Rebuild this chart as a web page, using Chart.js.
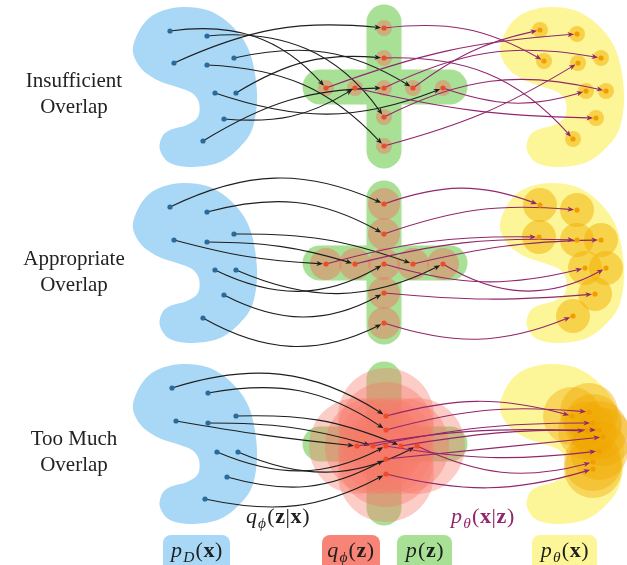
<!DOCTYPE html>
<html>
<head>
<meta charset="utf-8">
<script src="https://cdn.jsdelivr.net/npm/chart.js"></script>
<style>
  html, body { margin: 0; padding: 0; background: #ffffff; }
  canvas { display: block; }
</style>
</head>
<body>
<canvas id="vae" width="627" height="565"></canvas>
<script>
// Plane used by both axes: x grows to the right (0..627), y grows downward (0..565).

// Row captions
const rowTitles = [["Insufficient", "Overlap"], ["Appropriate", "Overlap"], ["Too Much", "Overlap"]];
// Vertical offset of each row's regions
const rowShift = [0, 176, 357];

// Outline of the data density p_D(x) (top row); p_θ(x) reuses it moved to the right
const densityOutline = [[133,47],[147,20],[173,8],[207,10],[233,27],[250,53],[257,93],[253,127],
  [240,147],[220,162],[193,167],[170,163],[160,150],[162,137],[170,130],[187,125],[198,117],
  [199,103],[192,93],[177,87],[157,80],[140,67]];
const decodedShiftX = 367;

// Prior p(z): two bars forming a cross (top row)
const priorBars = [[[384,22],[384,151]], [[320,87],[450,87]]];

// Row 1: insufficient overlap
const xInsufficient = [[170,31],[207,36],[174,63],[234,58],[207,65],[236,93],[215,93],[224,119],[203,141]];
const zInsufficient = [[384,28],[384,58],[326,88],[355,88],[384,88],[413,88],[443,88],[384,117],[384,146]];
const rInsufficient = [[540,30],[577,34],[544,61],[578,63],[601,58],[586,91],[606,91],[596,118],[573,139]];
// links: [from, to, bend in degrees]
const encInsufficient = [[0,2,28],[1,7,30],[2,0,15],[3,5,22],[4,8,22],[5,1,18],[6,6,-20],[7,3,-18],[8,4,15]];
const decInsufficient = [[0,2,18],[1,8,25],[5,0,12],[8,3,-8],[6,5,-18],[3,7,-6],[2,1,8],[4,4,18],[7,6,20]];

// Row 2: appropriate overlap
const xAppropriate = [[170,207],[207,212],[234,234],[174,240],[207,242],[215,270],[236,270],[224,295],[203,318]];
const zAppropriate = [[384,204],[384,234],[326,264],[355,264],[384,264],[413,264],[443,264],[384,293],[384,323]];
const rAppropriate = [[540,205],[577,210],[539,237],[577,240],[601,240],[585,268],[606,268],[595,294],[573,316]];
const encAppropriate = [[0,0,25],[1,1,22],[2,5,10],[4,3,8],[3,2,-6],[5,4,-28],[6,6,-25],[7,7,-28],[8,8,-28]];
const decAppropriate = [[0,0,20],[1,1,12],[2,2,8],[3,3,8],[5,4,6],[4,5,-15],[6,6,-30],[7,7,-5],[8,8,-20]];

// Row 3: too much overlap
const xTooMuch = [[172,388],[208,393],[236,416],[176,421],[208,423],[217,452],[238,452],[227,477],[205,499]];
const zTooMuch = [[386,416],[386,430],[357,446],[373,446],[386,446],[401,446],[417,446],[386,459],[386,474]];
const rTooMuch = [[572,416],[589,412],[593,423],[587,431],[599,430],[603,437],[599,451],[593,462],[593,469]];
const encTooMuch = [[0,0,25],[1,1,22],[2,5,12],[4,3,8],[3,2,-2],[5,4,-25],[6,6,-25],[7,7,-22],[8,8,-20]];
const decTooMuch = [[0,0,15],[1,1,10],[2,3,6],[3,2,6],[5,4,5],[4,6,-8],[6,7,-20],[7,5,0],[8,8,-15]];

// ---- styling ----
const SERIF = '"Liberation Serif", "DejaVu Serif", serif';
const C = {
  blue: 'rgb(168,216,245)', blueDot: '#2b6b9b',
  green: 'rgb(168,224,150)',
  yellow: 'rgb(253,246,152)', orangeDot: '#f39c00',
  redDot: '#ee4a2c', salmon: 'rgb(247,132,118)',
  ink: '#1e1e1e', purple: 'rgb(146,38,108)'
};
const codeHalo = [8, 16, 48];
const codeHaloColor = ['rgba(238,122,100,0.48)', 'rgba(238,122,100,0.5)', 'rgba(246,122,106,0.38)'];
const outHalo = [8, 17, 29];
const outHaloColor = ['rgba(242,176,0,0.52)', 'rgba(242,176,0,0.5)', 'rgba(240,168,0,0.4)'];

const rows = [
  { x: xInsufficient, z: zInsufficient, r: rInsufficient, enc: encInsufficient, dec: decInsufficient },
  { x: xAppropriate, z: zAppropriate, r: rAppropriate, enc: encAppropriate, dec: decAppropriate },
  { x: xTooMuch, z: zTooMuch, r: rTooMuch, enc: encTooMuch, dec: decTooMuch }
];

const pts = arr => arr.map(p => ({ x: p[0], y: p[1] }));

// ---- datasets ----
const datasets = [];
rows.forEach((row, i) => {
  priorBars.forEach(bar => datasets.push({
    role: 'prior', showLine: true, order: 10,
    data: bar.map(p => ({ x: p[0], y: p[1] + rowShift[i] })),
    borderColor: C.green, borderWidth: 35, borderCapStyle: 'round',
    pointRadius: 0
  }));
  datasets.push({ role: 'halo', order: 5, data: pts(row.z),
    pointRadius: codeHalo[i], pointBackgroundColor: codeHaloColor[i], pointBorderWidth: 0 });
  datasets.push({ role: 'halo', order: 5, data: pts(row.r),
    pointRadius: outHalo[i], pointBackgroundColor: outHaloColor[i], pointBorderWidth: 0 });
  datasets.push({ role: 'dot', order: 0, data: pts(row.x),
    pointRadius: 2.6, pointBackgroundColor: C.blueDot, pointBorderWidth: 0 });
  datasets.push({ role: 'dot', order: 0, data: pts(row.z),
    pointRadius: 2.6, pointBackgroundColor: C.redDot, pointBorderWidth: 0 });
  datasets.push({ role: 'dot', order: 0, data: pts(row.r),
    pointRadius: 2.6, pointBackgroundColor: C.orangeDot, pointBorderWidth: 0 });
});

// ---- drawing helpers ----
function toPx(chart, p) {
  return [chart.scales.x.getPixelForValue(p[0]), chart.scales.y.getPixelForValue(p[1])];
}

function closedSpline(ctx, p) {
  const n = p.length;
  ctx.beginPath();
  ctx.moveTo(p[0][0], p[0][1]);
  for (let i = 0; i < n; i++) {
    const a = p[(i - 1 + n) % n], b = p[i], c = p[(i + 1) % n], d = p[(i + 2) % n];
    ctx.bezierCurveTo(b[0] + (c[0] - a[0]) / 6, b[1] + (c[1] - a[1]) / 6,
                      c[0] - (d[0] - b[0]) / 6, c[1] - (d[1] - b[1]) / 6, c[0], c[1]);
  }
  ctx.closePath();
}

// Bent arrow (TikZ-style "bend" by the given angle), arrowhead at the end
function arrow(ctx, a, b, bendDeg, color) {
  const dx = b[0] - a[0], dy = b[1] - a[1];
  const len = Math.hypot(dx, dy), ang = Math.atan2(dy, dx), bend = bendDeg * Math.PI / 180;
  const d = 0.3915 * len;
  const endAng = ang + bend;
  const ux = Math.cos(endAng), uy = Math.sin(endAng);
  const tip = [b[0] - 3 * ux, b[1] - 3 * uy];
  const head = 6.5, back = 4.5;
  const c1 = [a[0] + d * Math.cos(ang - bend), a[1] + d * Math.sin(ang - bend)];
  const c2 = [tip[0] - d * ux, tip[1] - d * uy];
  const end = [tip[0] - back * ux, tip[1] - back * uy];
  ctx.strokeStyle = color;
  ctx.lineWidth = 1.1;
  ctx.beginPath();
  ctx.moveTo(a[0], a[1]);
  ctx.bezierCurveTo(c1[0], c1[1], c2[0], c2[1], end[0], end[1]);
  ctx.stroke();
  // stealth-like head
  const nx = -uy, ny = ux;
  ctx.fillStyle = color;
  ctx.beginPath();
  ctx.moveTo(tip[0], tip[1]);
  ctx.lineTo(tip[0] - head * ux + 2.6 * nx, tip[1] - head * uy + 2.6 * ny);
  ctx.lineTo(tip[0] - (head - 1.8) * ux, tip[1] - (head - 1.8) * uy);
  ctx.lineTo(tip[0] - head * ux - 2.6 * nx, tip[1] - head * uy - 2.6 * ny);
  ctx.closePath();
  ctx.fill();
}

// Inline math: parts like 'i:p', '_i:D', 'r:(', 'b:x'
function mathText(ctx, parts, cx, baseline, size, color) {
  const items = parts.map(s => {
    const sub = s[0] === '_';
    const body = sub ? s.slice(1) : s;
    const st = body[0], t = body.slice(2);
    const sz = sub ? size * 0.7 : size;
    const font = (st === 'i' ? 'italic ' : st === 'b' ? 'bold ' : '') + sz + 'px ' + SERIF;
    ctx.font = font;
    const w = ctx.measureText(t).width + (st === 'i' ? 1.2 : 0.6);
    return { t, font, w, dy: sub ? size * 0.22 : 0 };
  });
  const total = items.reduce((s, it) => s + it.w, 0);
  let x = cx - total / 2;
  ctx.fillStyle = color;
  ctx.textAlign = 'left';
  ctx.textBaseline = 'alphabetic';
  items.forEach(it => {
    ctx.font = it.font;
    ctx.fillText(it.t, x, baseline + it.dy);
    x += it.w;
  });
}

function roundBox(ctx, x0, y0, x1, y1, r, fill) {
  ctx.fillStyle = fill;
  ctx.beginPath();
  ctx.roundRect(x0, y0, x1 - x0, y1 - y0, r);
  ctx.fill();
}

const diagram = {
  id: 'diagram',
  beforeDatasetsDraw(chart) {
    const ctx = chart.ctx;
    chart.$linksDone = false;
    ctx.save();
    rowShift.forEach(dy => {
      ctx.fillStyle = C.blue;
      closedSpline(ctx, densityOutline.map(p => toPx(chart, [p[0], p[1] + dy])));
      ctx.fill();
      ctx.fillStyle = C.yellow;
      closedSpline(ctx, densityOutline.map(p => toPx(chart, [p[0] + decodedShiftX, p[1] + dy])));
      ctx.fill();
    });
    ctx.restore();
  },
  beforeDatasetDraw(chart, args) {
    const ds = chart.data.datasets[args.index];
    if (ds.role !== 'dot' || chart.$linksDone) return;
    chart.$linksDone = true;
    const ctx = chart.ctx;
    ctx.save();
    rows.forEach(row => {
      row.enc.forEach(([f, t, b]) => arrow(ctx, toPx(chart, row.x[f]), toPx(chart, row.z[t]), b, C.ink));
      row.dec.forEach(([f, t, b]) => arrow(ctx, toPx(chart, row.z[f]), toPx(chart, row.r[t]), b, C.purple));
    });
    ctx.restore();
  },
  afterDraw(chart) {
    const ctx = chart.ctx;
    ctx.save();
    // row captions
    ctx.fillStyle = '#222';
    ctx.textAlign = 'center';
    ctx.textBaseline = 'alphabetic';
    ctx.font = '21px ' + SERIF;
    const titleBase = [87, 265, 445];
    rowTitles.forEach((lines, i) => {
      lines.forEach((s, j) => ctx.fillText(s, 74, titleBase[i] + j * 26));
    });
    // mapping labels
    mathText(ctx, ['i:q', '_i:ϕ', 'r:(', 'b:z', 'r:|', 'b:x', 'r:)'], 278, 523, 22, C.ink);
    mathText(ctx, ['i:p', '_i:θ', 'r:(', 'b:x', 'r:|', 'b:z', 'r:)'], 483, 523, 22, C.purple);
    // legend boxes
    roundBox(ctx, 163, 535, 230, 572, 8, C.blue);
    roundBox(ctx, 322, 535, 380, 572, 8, C.salmon);
    roundBox(ctx, 397, 535, 452, 572, 8, C.green);
    roundBox(ctx, 532, 535, 597, 572, 8, C.yellow);
    mathText(ctx, ['i:p', '_i:D', 'r:(', 'b:x', 'r:)'], 197, 557, 22, C.ink);
    mathText(ctx, ['i:q', '_i:ϕ', 'r:(', 'b:z', 'r:)'], 351, 557, 22, C.ink);
    mathText(ctx, ['i:p', 'r:(', 'b:z', 'r:)'], 425, 557, 22, C.ink);
    mathText(ctx, ['i:p', '_i:θ', 'r:(', 'b:x', 'r:)'], 565, 557, 22, C.ink);
    ctx.restore();
  }
};

new Chart(document.getElementById('vae'), {
  type: 'scatter',
  data: { datasets },
  options: {
    responsive: false,
    animation: false,
    events: [],
    devicePixelRatio: 1,
    layout: { padding: 0, autoPadding: false },
    plugins: { legend: { display: false }, tooltip: { enabled: false } },
    scales: {
      x: { type: 'linear', min: 0, max: 627, display: false },
      y: { type: 'linear', min: 0, max: 565, reverse: true, display: false }
    }
  },
  plugins: [diagram]
});
</script>
</body>
</html>
